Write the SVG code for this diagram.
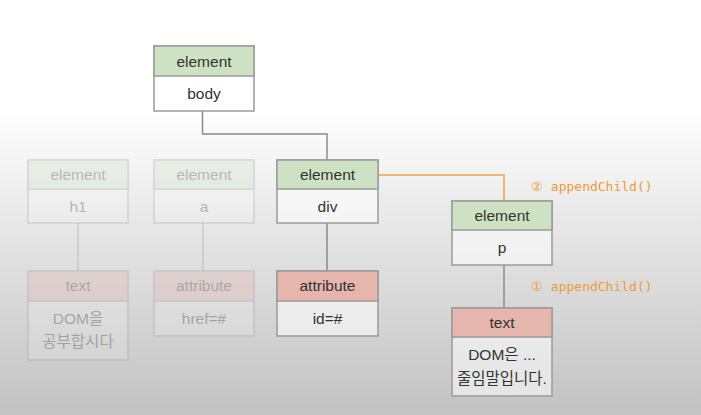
<svg xmlns="http://www.w3.org/2000/svg" width="701" height="415" viewBox="0 0 701 415">
<defs>
<linearGradient id="bg" x1="0" y1="0" x2="0" y2="1">
<stop offset="0" stop-color="#ffffff"/>
<stop offset="0.27" stop-color="#ffffff"/>
<stop offset="0.55" stop-color="#e6e6e6"/>
<stop offset="1" stop-color="#c2c2c2"/>
</linearGradient>
<style>
.box{fill:#ffffff;fill-opacity:0.55;stroke:#9a9a9a;stroke-width:1.5}
.hg{fill:#cde2c2;stroke:#9a9a9a;stroke-width:1.5}
.hr{fill:#e6b5ab;stroke:#9a9a9a;stroke-width:1.5}
.t{font-family:"Liberation Sans","Noto Sans CJK KR",sans-serif;font-size:15.5px;fill:#333;text-anchor:middle}
.faded{opacity:0.3}
.ln{stroke:#8a8a8a;stroke-width:1.5;fill:none}
.or{stroke:#f0a544;stroke-width:1.5;fill:none}
.lbl{font-family:"DejaVu Sans Mono","Liberation Mono",monospace;font-size:13px;fill:#ee9a38}
</style>
</defs>
<rect width="701" height="415" fill="url(#bg)"/>
<g id="connectors">
<polyline class="ln" points="202.5,111 202.5,134 327,134 327,160"/>
<line class="ln faded" x1="78" y1="223" x2="78" y2="271"/>
<line class="ln faded" x1="203" y1="223" x2="203" y2="271"/>
<line class="ln" x1="327" y1="223" x2="327" y2="271"/>
<polyline class="or" points="378,175 504,175 504,201"/>
<line class="ln" x1="504" y1="265" x2="504" y2="308"/>
<text class="lbl" x="531" y="191">② appendChild()</text>
<text class="lbl" x="531" y="291">① appendChild()</text>
</g>
<g id="body">
<rect class="box" x="154" y="46" width="100" height="65"/>
<rect class="hg" x="154" y="46" width="100" height="30"/>
<text class="t" x="204" y="66.5">element</text>
<text class="t" x="204" y="99">body</text>
</g>
<g id="h1" class="faded">
<rect class="box" x="28" y="160" width="100" height="63"/>
<rect class="hg" x="28" y="160" width="100" height="29"/>
<text class="t" x="78" y="180">element</text>
<text class="t" x="78" y="212">h1</text>
</g>
<g id="a" class="faded">
<rect class="box" x="154" y="160" width="100" height="63"/>
<rect class="hg" x="154" y="160" width="100" height="29"/>
<text class="t" x="204" y="180">element</text>
<text class="t" x="204" y="212">a</text>
</g>
<g id="div">
<rect class="box" x="277" y="160" width="101" height="63"/>
<rect class="hg" x="277" y="160" width="101" height="29"/>
<text class="t" x="327.5" y="180">element</text>
<text class="t" x="327.5" y="212">div</text>
</g>
<g id="text-h1" class="faded">
<rect class="box" x="28" y="271" width="100" height="89"/>
<rect class="hr" x="28" y="271" width="100" height="30"/>
<text class="t" x="78" y="291">text</text>
<text class="t" x="78" y="324">DOM을</text>
<text class="t" x="78" y="347">공부합시다</text>
</g>
<g id="attr-a" class="faded">
<rect class="box" x="154" y="271" width="100" height="65"/>
<rect class="hr" x="154" y="271" width="100" height="30"/>
<text class="t" x="204" y="291">attribute</text>
<text class="t" x="204" y="324">href=#</text>
</g>
<g id="attr-div">
<rect class="box" x="277" y="271" width="101" height="65"/>
<rect class="hr" x="277" y="271" width="101" height="30"/>
<text class="t" x="327.5" y="291">attribute</text>
<text class="t" x="327.5" y="324">id=#</text>
</g>
<g id="p">
<rect class="box" x="452" y="201" width="100" height="64"/>
<rect class="hg" x="452" y="201" width="100" height="29"/>
<text class="t" x="502" y="221">element</text>
<text class="t" x="502" y="253">p</text>
</g>
<g id="text-p">
<rect class="box" x="452" y="308" width="100" height="88"/>
<rect class="hr" x="452" y="308" width="100" height="29"/>
<text class="t" x="502" y="328">text</text>
<text class="t" x="502" y="360">DOM은 ...</text>
<text class="t" x="502" y="384">줄임말입니다.</text>
</g>
</svg>
